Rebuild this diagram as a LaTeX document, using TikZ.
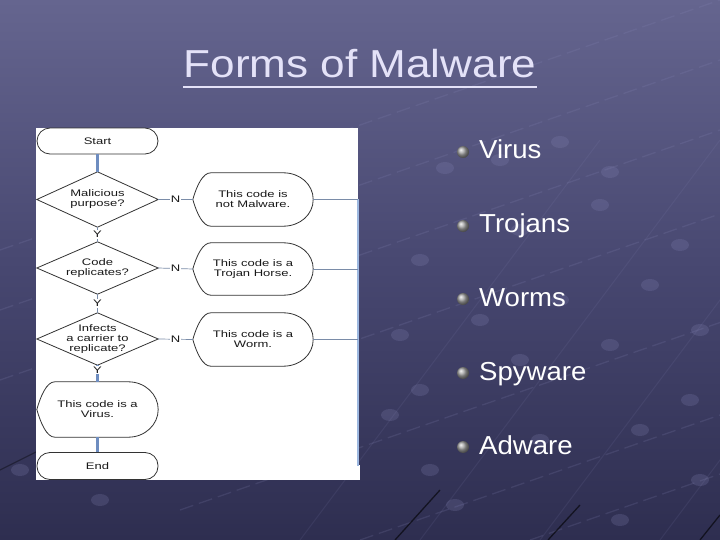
\documentclass[tikz,border=0pt]{standalone}
\usepackage{fontspec}
\setmainfont{Liberation Sans}
\newfontfamily\chartfont[FakeStretch=1.37]{Liberation Sans}
\newfontfamily\titlefont[FakeStretch=1.13]{Liberation Sans}
\newfontfamily\itemfont[FakeStretch=1.06]{Liberation Sans}
\usetikzlibrary{calc}
\definecolor{bgtop}{HTML}{65658F}
\definecolor{bgmid}{HTML}{474770}
\definecolor{bgbot}{HTML}{2E2E50}
\definecolor{gridc}{HTML}{8888B8}
\definecolor{titlec}{HTML}{E4E2F8}
\definecolor{conblue}{HTML}{6E8DC0}
\definecolor{railblue}{HTML}{9DB8E0}
\definecolor{thinline}{HTML}{7A8CA8}
\tikzset{
  chart/.style={font=\chartfont\fontsize{9.5}{10}\selectfont, align=center, text=black!90, inner sep=0pt},
  pill/.style={chart, draw=black!80, line width=0.8pt, rounded corners=13pt, minimum width=121pt, minimum height=26pt},
  decbox/.style={chart, minimum width=121pt, minimum height=55pt},
  dispbox/.style={chart, minimum width=120pt, minimum height=53pt},
  outline/.style={draw=black!80, line width=0.8pt},
  bluecon/.style={draw=conblue, line width=2.2pt},
  thincon/.style={draw=thinline, line width=0.7pt},
  lab/.style={chart, fill=white, inner sep=1pt},
  item/.style={font=\itemfont\fontsize{26}{30}\selectfont, text=white, anchor=base west, inner sep=0pt},
  bullet/.style={ball color=gray!70!white, shading=ball},
  gridline/.style={draw=gridc, line width=1.3pt, opacity=0.18, dash pattern=on 14pt off 6pt},
  steepline/.style={draw=gridc, line width=1pt, opacity=0.12},
  griddot/.style={fill=gridc, opacity=0.22},
  darkline/.style={draw=black, line width=1.3pt, opacity=0.6}
}
\newcommand\dispoutline[1]{%
  \draw[outline] (#1.west)
    .. controls ($(#1.west)+(4,-14)$) and ($(#1.north west)+(10,0)$) .. ($(#1.north west)+(18,0)$)
    -- ($(#1.north east)+(-30,0)$)
    .. controls ($(#1.north east)+(-13,0)$) and ($(#1.east)+(0,-15)$) .. (#1.east)
    .. controls ($(#1.east)+(0,15)$) and ($(#1.south east)+(-13,0)$) .. ($(#1.south east)+(-30,0)$)
    -- ($(#1.south west)+(18,0)$)
    .. controls ($(#1.south west)+(10,0)$) and ($(#1.west)+(4,14)$) .. (#1.west) -- cycle;}
\newcommand\diamondoutline[1]{%
  \draw[outline] (#1.north) -- (#1.east) -- (#1.south) -- (#1.west) -- cycle;}
\begin{document}
\begin{tikzpicture}[x=1pt,y=-1pt]
\useasboundingbox (0,0) rectangle (720,540);
% background
\shade[top color=bgtop, bottom color=bgbot, middle color=bgmid] (0,0) rectangle (720,540);
% faint network pattern
\foreach \a/\b in {0/250, 0/310, 0/380, 40/450, 180/510, 360/540, 530/540}{
  \draw[gridline] (\a,\b) -- ++(720,-250);
}
\foreach \a in {300,420,540,660}{
  \draw[steepline] (\a,540) -- ++(300,-400);
}
\foreach \p in {(445,168),(500,160),(560,142),(610,172),(420,260),(520,230),(600,205),(680,245),
  (480,320),(560,300),(650,285),(700,330),(420,390),(520,360),(610,345),(690,400),
  (430,470),(540,440),(640,430),(400,335),(620,520),(700,480),(390,415),(455,505),(20,470),(100,500)}{
  \fill[griddot] \p ellipse (9 and 6);
}
\draw[darkline] (395,540) -- (440,490);
\draw[darkline] (548,540) -- (580,505);
\draw[darkline] (700,540) -- (720,515);
\draw[darkline, opacity=0.35] (0,470) -- (40,450);
% white panel
\fill[white] (36,128) rectangle (358,480);
\fill[white] (358,465) rectangle (360,480);
% title
\node[font=\titlefont\fontsize{39}{44}\selectfont, text=titlec, anchor=base, inner sep=0pt] (title) at (360,78) {Forms of Malware};
\draw[draw=titlec, line width=2.6pt] ($(title.base west)+(0,9)$) -- ($(title.base east)+(0,9)$);
% flowchart nodes
\node[pill] (start) at (97.5,141) {Start};
\node[decbox] (d1) at (97.5,199.5) {Malicious\\purpose?};
\node[decbox, minimum height=52pt] (d2) at (97.5,268) {Code\\replicates?};
\node[decbox, minimum height=52pt] (d3) at (97.5,339) {Infects\\a carrier to\\replicate?};
\node[dispbox, minimum width=121pt, minimum height=55pt] (virus) at (97.5,409.5) {This code is a\\Virus.};
\node[pill, minimum height=27pt] (endn) at (97.5,466) {End};
\node[dispbox] (t1) at (253,199.5) {This code is\\not Malware.};
\node[dispbox, minimum height=52pt] (t2) at (253,269) {This code is a\\Trojan Horse.};
\node[dispbox] (t3) at (253,339.5) {This code is a\\Worm.};
\diamondoutline{d1}
\diamondoutline{d2}
\diamondoutline{d3}
\dispoutline{t1}
\dispoutline{t2}
\dispoutline{t3}
\dispoutline{virus}
% rail
\coordinate (rtop) at (357.5,199.5);
\coordinate (rbot) at (357.5,466);
\draw[draw=railblue, line width=2pt] (rtop) -- (rbot);
% connectors
\draw[bluecon] (start.south) -- (d1.north);
\draw[thincon] (d1.south) -- node[lab] {Y} (d2.north);
\draw[thincon] (d2.south) -- node[lab] {Y} (d3.north);
\draw[bluecon] (d3.south) -- node[lab, pos=0.3] {Y} (virus.north);
\draw[bluecon] (virus.south) -- (endn.north);
\draw[thincon] (d1.east) -- node[lab] {N} (t1.west);
\draw[thincon] (d2.east) -- node[lab] {N} (t2.west);
\draw[thincon] (d3.east) -- node[lab] {N} (t3.west);
\draw[thincon] (t1.east) -- (t1.east -| rbot);
\draw[thincon] (t2.east) -- (t2.east -| rbot);
\draw[thincon] (t3.east) -- (t3.east -| rbot);
% bullet list
\node[item] (b1) at (479,159) {Virus};
\node[item] (b2) at (479,233) {Trojans};
\node[item] (b3) at (479,306) {Worms};
\node[item] (b4) at (479,380) {Spyware};
\node[item] (b5) at (479,454) {Adware};
\foreach \y in {152,226,299,373,447}{
  \shade[bullet] (463,\y) circle (6pt);
}
\end{tikzpicture}
\end{document}
